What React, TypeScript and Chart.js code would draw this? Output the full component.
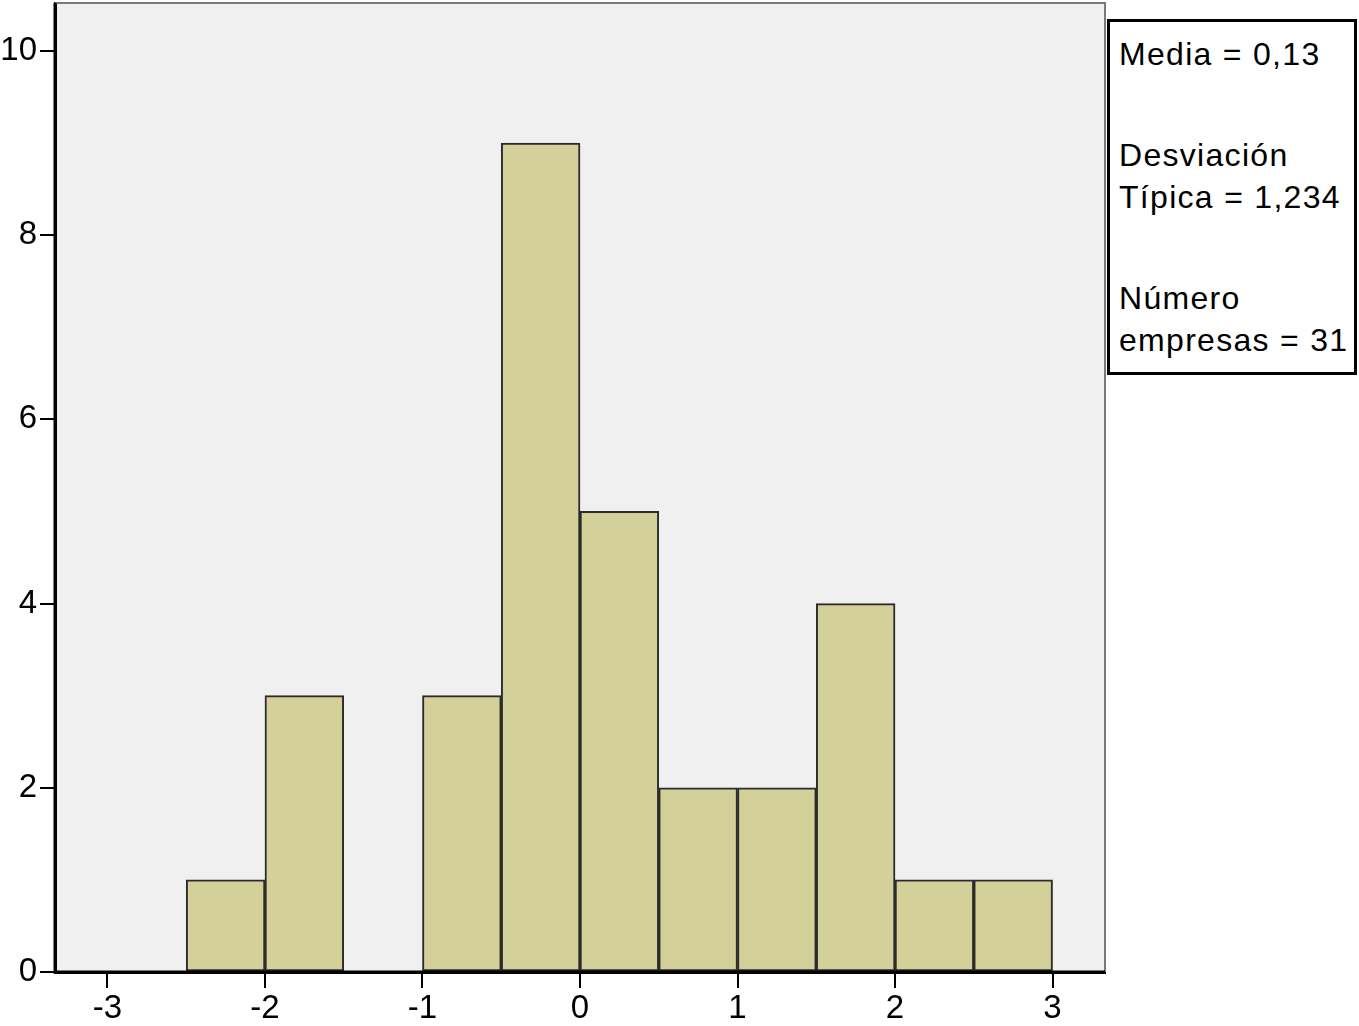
import React, { useEffect, useRef } from "react";
import { Chart, registerables } from "chart.js";

Chart.register(...registerables);

// Histogram bins (width 0.5), centres and frequencies
const binCenters = [-2.25, -1.75, -1.25, -0.75, -0.25, 0.25, 0.75, 1.25, 1.75, 2.25, 2.75];
const counts = [1, 3, 0, 3, 9, 5, 2, 2, 4, 1, 1];
const xTickValues = [-3, -2, -1, 0, 1, 2, 3];
const yTickValues = [0, 2, 4, 6, 8, 10];
const statsLines = [
  ["Media = 0,13"],
  ["Desviación", "Típica = 1,234"],
  ["Número", "empresas = 31"],
];

const FONT = "'Liberation Sans', Arial, Helvetica, sans-serif";

const frame = {
  id: "frame",
  beforeDraw(chart: any) {
    const { ctx, chartArea: a } = chart;
    ctx.save();
    ctx.fillStyle = "#f0f0f0";
    ctx.fillRect(a.left, a.top, a.right - a.left, a.bottom - a.top);
    ctx.restore();
  },
  afterDraw(chart: any) {
    const { ctx, chartArea: a } = chart;
    ctx.save();
    ctx.strokeStyle = "#7a7a7a";
    ctx.lineWidth = 2;
    ctx.beginPath();
    ctx.moveTo(a.left, a.top);
    ctx.lineTo(a.right, a.top);
    ctx.lineTo(a.right, a.bottom);
    ctx.stroke();
    ctx.strokeStyle = "#000";
    ctx.lineWidth = 3;
    ctx.beginPath();
    ctx.moveTo(a.left, a.top);
    ctx.lineTo(a.left, a.bottom);
    ctx.lineTo(a.right, a.bottom);
    ctx.stroke();
    ctx.restore();
  },
};

export default function App() {
  const ref = useRef<HTMLCanvasElement | null>(null);
  useEffect(() => {
    if (!ref.current) return;
    const chart = new Chart(ref.current, {
      type: "bar",
      data: {
        datasets: [
          {
            data: binCenters.map((x, i) => ({ x, y: counts[i] })),
            backgroundColor: "#d4d09a",
            borderColor: "#2b2b2b",
            borderWidth: 2,
            borderSkipped: false,
            barPercentage: 1,
            categoryPercentage: 1,
          },
        ],
      },
      options: {
        responsive: false,
        animation: false,
        layout: { padding: { left: 0, top: 3, right: 254, bottom: 0 } },
        plugins: { legend: { display: false }, tooltip: { enabled: false } },
        scales: {
          x: {
            type: "linear",
            min: -3.333,
            max: 3.333,
            offset: false,
            afterBuildTicks: (s: any) => {
              s.ticks = xTickValues.map((v) => ({ value: v }));
            },
            afterFit: (s: any) => {
              s.height = 54;
              s.paddingLeft = 0;
              s.paddingRight = 0;
            },
            grid: {
              offset: false,
              drawOnChartArea: false,
              color: "#000",
              lineWidth: 2,
              tickLength: 16,
            },
            border: { color: "#000", width: 3 },
            ticks: {
              color: "#000",
              font: { family: FONT, size: 33 },
              padding: 1,
              maxRotation: 0,
              autoSkip: false,
            },
          },
          y: {
            type: "linear",
            min: 0,
            max: 10.52,
            afterBuildTicks: (s: any) => {
              s.ticks = yTickValues.map((v) => ({ value: v }));
            },
            afterFit: (s: any) => {
              s.width = 55;
              s.paddingTop = 0;
              s.paddingBottom = 0;
            },
            grid: {
              drawOnChartArea: false,
              color: "#000",
              lineWidth: 2,
              tickLength: 15,
            },
            border: { color: "#000", width: 3 },
            ticks: {
              color: "#000",
              font: { family: FONT, size: 33 },
              padding: 3,
              autoSkip: false,
            },
          },
        },
      },
      plugins: [frame],
    } as any);
    return () => chart.destroy();
  }, []);

  return (
    <div style={{ position: "absolute", left: 0, top: 0, width: 1359, height: 1026, background: "#fff" }}>
      <canvas ref={ref} width={1359} height={1026} style={{ width: 1359, height: 1026, display: "block" }} />
      <div
        style={{
          position: "absolute",
          left: 1107,
          top: 19,
          width: 250,
          height: 356,
          boxSizing: "border-box",
          border: "3px solid #000",
          background: "#fff",
          paddingTop: 11,
          paddingLeft: 9,
          fontFamily: FONT,
          fontSize: 32,
          letterSpacing: "1.3px",
          lineHeight: "42px",
          color: "#000",
          whiteSpace: "nowrap",
        }}
      >
        {statsLines.map((group, gi) => (
          <div key={gi} style={{ marginTop: gi === 0 ? 0 : 59 }}>
            {group.map((line, li) => (
              <div key={li}>{line}</div>
            ))}
          </div>
        ))}
      </div>
    </div>
  );
}
